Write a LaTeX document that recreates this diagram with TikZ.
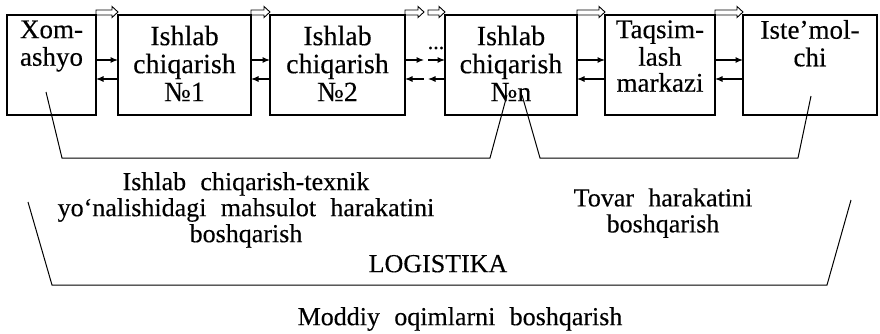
\documentclass[tikz,border=0pt]{standalone}
\usepackage{fontspec}
\setmainfont[FakeBold=0.3]{Liberation Serif}
\usetikzlibrary{calc,arrows.meta}
\newcommand\hollowarr[2]{\draw[hol] let \p1=(#1), \p2=(#2) in
  (\x1,\y1) -- (\x1,\y1+5pt) -- (\x2-6pt,\y1+5pt) -- (\x2-6pt,\y1+8.5pt)
  -- (\x2,\y1+3pt) -- (\x2-6pt,\y1-2.5pt) -- (\x2-6pt,\y1) -- cycle;}
\newcommand\sidearr[2]{%
  \draw[sa] ($(#1)+(0,45)$) -- ($(#2)+(0,45)$);
  \draw[sa] ($(#2)+(0,64)$) -- ($(#1)+(0,64)$);}
\newcommand\widesp{\spaceskip=0.55em\relax}
\begin{document}
\begin{tikzpicture}[x=1pt,y=-1pt,
  box/.style={draw, line width=1.2pt, inner sep=0pt, outer sep=0pt, minimum height=100pt},
  lbl/.style={inner sep=0pt, align=center, anchor=north, font=\fontsize{28}{28}\selectfont},
  lbltop/.style={inner sep=0pt, align=center, anchor=north, font=\fontsize{27}{26}\selectfont},
  txt/.style={inner sep=0pt, align=center, anchor=north, font=\fontsize{26}{26}\selectfont},
  sa/.style={line width=1.1pt, -{Latex[length=7.5pt,width=6pt]}},
  hol/.style={line width=0.9pt},
  brk/.style={line width=1pt}]
\useasboundingbox (0,0) rectangle (880,333);
% boxes
\node[box, minimum width=89pt]  (b1) at (51.5,65) {};
\node[box, minimum width=133pt] (b2) at (184.5,65) {};
\node[box, minimum width=135pt] (b3) at (337.5,65) {};
\node[box, minimum width=132pt] (b4) at (511,65) {};
\node[box, minimum width=110pt] (b5) at (660,65) {};
\node[box, minimum width=134pt] (b6) at (810,65) {};
% box texts
\node[lbltop] (t1) at ($(b1.north)+(0,4.8)$) {\strut Xom-\\ashyo};
\node[lbl] (t2) at ($(b2.north)+(0,10.4)$) {\strut Ishlab\\chiqarish\\№1};
\node[lbl] (t3) at ($(b3.north)+(0,10.4)$) {\strut Ishlab\\chiqarish\\№2};
\node[lbl] (t4) at ($(b4.north)+(0,10.4)$) {\strut Ishlab\\chiqarish\\№n};
\node[lbltop] (t5) at ($(b5.north)+(0,4.8)$) {\strut Taqsim-\\lash\\markazi};
\node[lbltop] (t6) at ($(b6.north)+(0,4.8)$) {\strut Iste’mol-\\chi};
% gap between No2 and No n
\coordinate (g1) at (424,15);
\coordinate (g2) at (428,15);
\node[inner sep=0pt, font=\fontsize{22}{22}\selectfont] (dots) at (436,48) {...};
% hollow arrows on top
\hollowarr{b1.north east}{b2.north west}
\hollowarr{b2.north east}{b3.north west}
\hollowarr{b3.north east}{g1}
\hollowarr{g2}{b4.north west}
\hollowarr{b4.north east}{b5.north west}
\hollowarr{b5.north east}{b6.north west}
% side arrows
\sidearr{b1.north east}{b2.north west}
\sidearr{b2.north east}{b3.north west}
\sidearr{b3.north east}{g1}
\sidearr{g2}{b4.north west}
\sidearr{b4.north east}{b5.north west}
\sidearr{b5.north east}{b6.north west}
% brackets
\coordinate (a1) at (46,92);  \coordinate (a2) at (62,158);
\coordinate (a3) at (490,158); \coordinate (a4) at (507,95);
\draw[brk] (a1) -- (a2) -- (a3) -- (a4);
\coordinate (c1) at (522,95);  \coordinate (c2) at (540,158);
\coordinate (c3) at (798,158); \coordinate (c4) at (811,96);
\draw[brk] (c1) -- (c2) -- (c3) -- (c4);
\coordinate (d1) at (28,202);  \coordinate (d2) at (52,285);
\coordinate (d3) at (827,285); \coordinate (d4) at (851,200);
\draw[brk] (d1) -- (d2) -- (d3) -- (d4);
% labels
\node[txt] (la) at (246,171.8) {\widesp\strut Ishlab chiqarish-texnik\\\widesp yo‘nalishidagi mahsulot harakatini\\boshqarish};
\node[txt] (lb) at (663,188) {\widesp\strut Tovar harakatini\\boshqarish};
\node[txt] (lc) at (438,253.8) {\strut LOGISTIKA};
\node[txt] (ld) at (460,306.8) {\widesp\strut Moddiy oqimlarni boshqarish};
\end{tikzpicture}
\end{document}
